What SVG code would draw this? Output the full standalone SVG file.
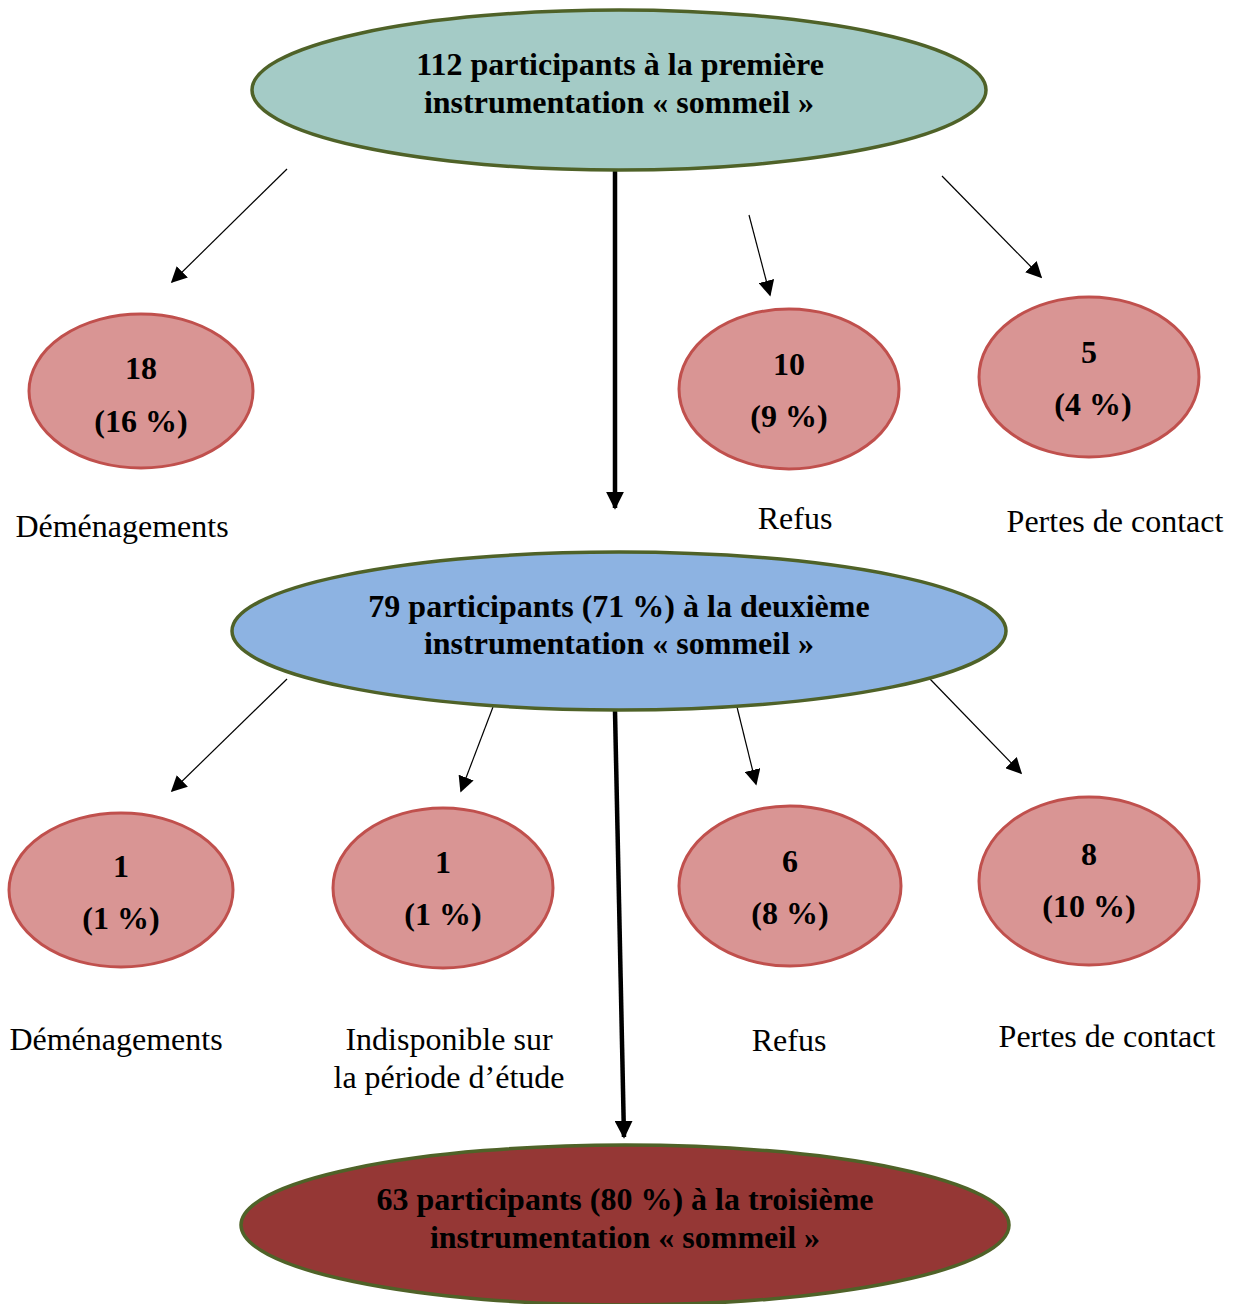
<svg xmlns="http://www.w3.org/2000/svg" width="1240" height="1304" viewBox="0 0 1240 1304">
<style>
.main{stroke:#4F6228;stroke-width:3.5}
.small{fill:#D99594;stroke:#C0504D;stroke-width:3}
.b{font-family:"Liberation Serif",serif;font-weight:bold;font-size:32px;text-anchor:middle;fill:#000}
.r{font-family:"Liberation Serif",serif;font-size:32px;text-anchor:middle;fill:#000}
.thin{stroke:#000;stroke-width:1.2;fill:none}
.thick{stroke:#000;stroke-width:4.5;fill:none}
</style>
<defs>
<marker id="ah" viewBox="0 0 10 10" refX="9" refY="5" markerWidth="16" markerHeight="16" markerUnits="userSpaceOnUse" orient="auto"><path d="M0,0 L10,5 L0,10 Z" fill="#000"/></marker>
<marker id="ahT" viewBox="0 0 10 10" refX="9" refY="5" markerWidth="18" markerHeight="18" markerUnits="userSpaceOnUse" orient="auto"><path d="M0,0 L10,5 L0,10 Z" fill="#000"/></marker>
</defs>
<rect width="1240" height="1304" fill="#fff"/>
<g id="connectors">
<line class="thick" x1="615" y1="171" x2="615" y2="508" marker-end="url(#ahT)"/>
<line class="thick" x1="615" y1="711" x2="624" y2="1137" marker-end="url(#ahT)"/>
<line class="thin" x1="287" y1="169" x2="172" y2="282" marker-end="url(#ah)"/>
<line class="thin" x1="749" y1="215" x2="770" y2="295" marker-end="url(#ah)"/>
<line class="thin" x1="942" y1="176" x2="1041" y2="277" marker-end="url(#ah)"/>
<line class="thin" x1="287" y1="679" x2="172" y2="791" marker-end="url(#ah)"/>
<line class="thin" x1="493" y1="707" x2="461" y2="791" marker-end="url(#ah)"/>
<line class="thin" x1="737" y1="707" x2="756" y2="784" marker-end="url(#ah)"/>
<line class="thin" x1="930" y1="679" x2="1021" y2="773" marker-end="url(#ah)"/>
</g>
<g id="n-top">
<ellipse class="main" cx="619" cy="90" rx="367" ry="80" fill="#A4CBC6"/>
<text class="b" x="620" y="75">112 participants à la première</text>
<text class="b" x="619" y="113">instrumentation « sommeil »</text>
</g>
<g id="n-mid">
<ellipse class="main" cx="619" cy="631" rx="387" ry="79" fill="#8DB3E2"/>
<text class="b" x="619" y="617">79 participants (71 %) à la deuxième</text>
<text class="b" x="619" y="654">instrumentation « sommeil »</text>
</g>
<g id="n-bot">
<ellipse class="main" cx="625" cy="1225" rx="384" ry="80" fill="#953735"/>
<text class="b" x="625" y="1210">63 participants (80 %) à la troisième</text>
<text class="b" x="625" y="1248">instrumentation « sommeil »</text>
</g>
<g id="n-a1">
<ellipse class="small" cx="141" cy="391" rx="112" ry="77"/>
<text class="b" x="141" y="379">18</text>
<text class="b" x="141" y="432">(16 %)</text>
<text class="r" x="122" y="537">Déménagements</text>
</g>
<g id="n-a2">
<ellipse class="small" cx="789" cy="389" rx="110" ry="80"/>
<text class="b" x="789" y="375">10</text>
<text class="b" x="789" y="427">(9 %)</text>
<text class="r" x="795" y="529">Refus</text>
</g>
<g id="n-a3">
<ellipse class="small" cx="1089" cy="377" rx="110" ry="80"/>
<text class="b" x="1089" y="363">5</text>
<text class="b" x="1093" y="415">(4 %)</text>
<text class="r" x="1115" y="532">Pertes de contact</text>
</g>
<g id="n-b1">
<ellipse class="small" cx="121" cy="890" rx="112" ry="77"/>
<text class="b" x="121" y="877">1</text>
<text class="b" x="121" y="929">(1 %)</text>
<text class="r" x="116" y="1050">Déménagements</text>
</g>
<g id="n-b2">
<ellipse class="small" cx="443" cy="888" rx="110" ry="80"/>
<text class="b" x="443" y="873">1</text>
<text class="b" x="443" y="925">(1 %)</text>
<text class="r" x="449" y="1050">Indisponible sur</text>
<text class="r" x="449" y="1088">la période d’étude</text>
</g>
<g id="n-b3">
<ellipse class="small" cx="790" cy="886" rx="111" ry="80"/>
<text class="b" x="790" y="872">6</text>
<text class="b" x="790" y="924">(8 %)</text>
<text class="r" x="789" y="1051">Refus</text>
</g>
<g id="n-b4">
<ellipse class="small" cx="1089" cy="881" rx="110" ry="84"/>
<text class="b" x="1089" y="865">8</text>
<text class="b" x="1089" y="917">(10 %)</text>
<text class="r" x="1107" y="1047">Pertes de contact</text>
</g>
</svg>
